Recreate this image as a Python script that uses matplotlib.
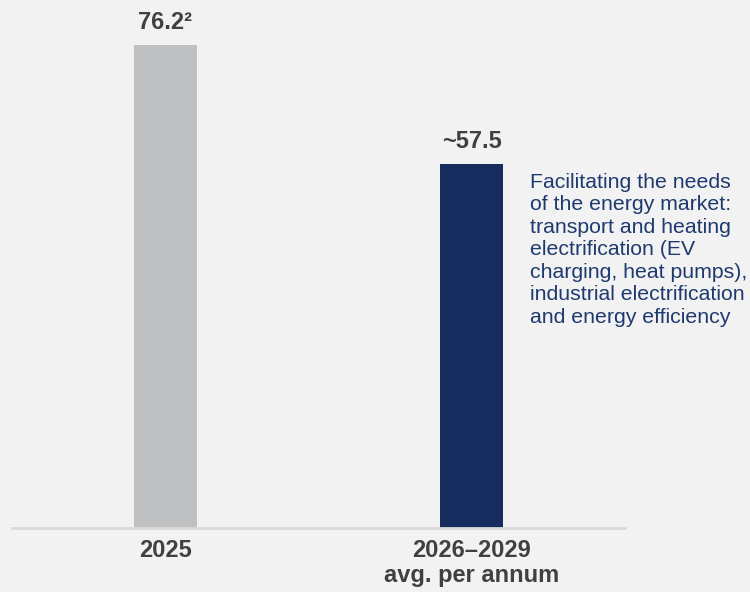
import matplotlib
matplotlib.use("Agg")
import matplotlib.pyplot as plt

categories = ["2025", "2026–2029\navg. per annum"]
values = [76.2, 57.5]
value_labels = ["76.2²", "~57.5"]
bar_colors = ["#bfc0c2", "#172c5e"]
note = ("Facilitating the needs\nof the energy market:\ntransport and heating\n"
        "electrification (EV\ncharging, heat pumps),\nindustrial electrification\n"
        "and energy efficiency")

plt.rcParams['font.family'] = ['Liberation Sans', 'DejaVu Sans']
W, H = 750, 592
fig = plt.figure(figsize=(W / 100, H / 100), dpi=100, facecolor="#f2f2f2")
ax = fig.add_axes([12 / W, (H - 528) / H, (625 - 12) / W, (528 - 45) / H])
ax.set_facecolor("#f2f2f2")

x = list(range(len(values)))
ax.bar(x, values, width=0.2055, color=bar_colors)
ax.set_xlim(-0.5, 1.5)
ax.set_ylim(0, 76.2)

for xi, v, lab in zip(x, values, value_labels):
    ax.annotate(lab, (xi, v), xytext=(0, 11.5), textcoords="offset points",
                ha="center", va="baseline", fontsize=17, fontweight="bold",
                color="#404040", annotation_clip=False)

ax.set_xticks(x)
ax.set_xticklabels(categories, fontsize=17, fontweight="bold", color="#404040",
                   linespacing=1.12)
ax.tick_params(axis="x", length=0, pad=8)
ax.set_yticks([])
for s in ["left", "right", "top"]:
    ax.spines[s].set_visible(False)
ax.spines["bottom"].set_color("#d9d9d9")
ax.spines["bottom"].set_linewidth(2)

fig.text(530 / W, 1 - 173 / H, note, ha="left", va="top", fontsize=15.3,
         color="#1e3a6e", linespacing=1.23)

fig.savefig("out.png", dpi=100, facecolor=fig.get_facecolor())
